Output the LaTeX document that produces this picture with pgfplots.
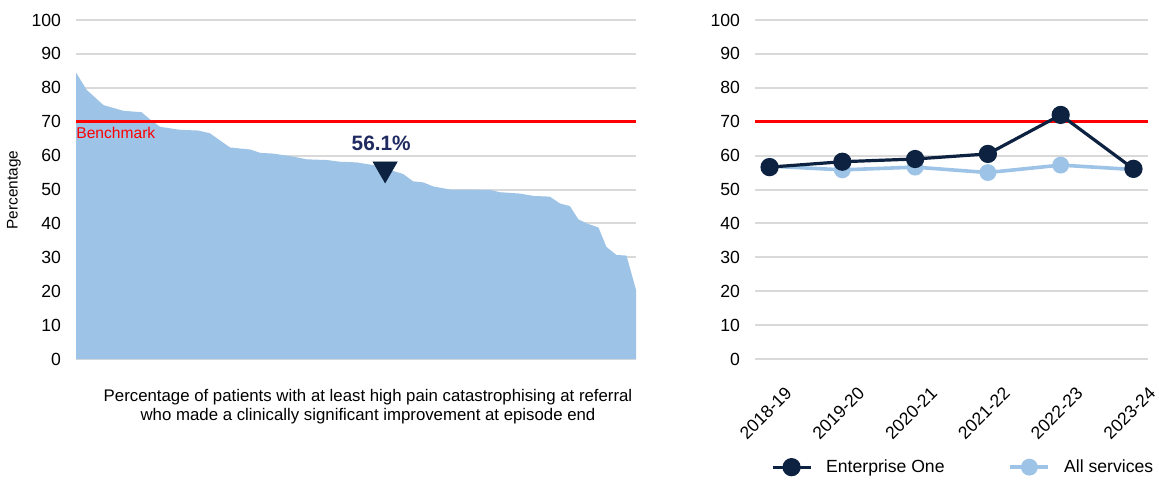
\documentclass[border=0pt]{standalone}
\usepackage{fontspec}
\setmainfont{Liberation Sans}
\usepackage{pgfplots}
\pgfplotsset{compat=1.18}

\definecolor{navy}{HTML}{0D2240}
\definecolor{lightblue}{HTML}{9DC3E6}
\definecolor{labelblue}{HTML}{1F2A60}
\definecolor{gridgray}{HTML}{D9D9D9}

\pgfplotsset{
  common/.style={
    scale only axis,
    height=169.5pt,
    ymin=0, ymax=100,
    ytick={0,10,...,100},
    axis line style={draw=none},
    ymajorgrids,
    grid style={gridgray, line width=1pt},
    tick style={draw=none},
    /pgf/number format/assume math mode=true,
    ticklabel style={font=\fontsize{8.8}{10}\selectfont},
    yticklabel style={xshift=-4pt},
  },
}

\begin{document}
\begin{tikzpicture}
% left: distribution across services
\begin{axis}[
  common,
  at={(0pt,0pt)}, anchor=south west,
  width=280pt,
  xmin=0, xmax=100,
  xtick=\empty,
  clip=false,
]
\addplot[fill=lightblue, draw=none] coordinates {
  (0,84.5) (1.9,79.4) (4.9,74.9) (8.5,73.2) (11.7,72.8) (13.2,70.7)
  (15.0,68.5) (18.6,67.6) (21.8,67.4) (23.9,66.6) (27.5,62.4) (31.1,61.8)
  (32.9,60.8) (35.2,60.6) (38.8,59.7) (41.2,58.9) (44.8,58.7) (47.1,58.2)
  (50.1,58.0) (53.1,57.2) (58.4,54.6) (60.2,52.4) (62.0,52.1) (63.8,50.9)
  (66.8,50.0) (73.9,49.9) (75.7,49.2) (79.3,48.8) (81.7,48.1) (84.6,47.9)
  (86.4,45.9) (88.2,45.1) (89.7,41.2) (91.2,40.0) (93.3,38.8) (94.7,33.1)
  (96.5,30.7) (98.3,30.5) (100,20.4)
} \closedcycle;
% benchmark
\addplot[red, line width=1.5pt] coordinates {(0,70) (100,70)};
% this service
\addplot[only marks, mark=triangle*, mark size=6.9pt,
  mark options={rotate=180, fill=navy, draw=navy}] coordinates {(55.2,56.1)};
\node[red, anchor=north west, inner sep=0pt, font=\fontsize{7.8}{9}\selectfont]
  at (axis cs:0,68.6) {Benchmark};
\node[labelblue, font=\fontsize{10.4}{12}\bfseries\selectfont]
  at (axis cs:54.5,63.7) {56.1\%};
\end{axis}

\node[rotate=90, font=\fontsize{7.7}{9}\selectfont] at (-31pt,84.5pt) {Percentage};
\node[align=center, font=\fontsize{8.4}{9.5}\selectfont] at (146pt,-24pt)
  {Percentage of patients with at least high pain catastrophising at referral\\
   who made a clinically significant improvement at episode end};

% right: trend
\begin{axis}[
  common,
  at={(339.5pt,0pt)}, anchor=south west,
  width=196.5pt,
  xmin=-0.2, xmax=5.2,
  xtick={0,1,2,3,4,5},
  xticklabels={2018-19,2019-20,2020-21,2021-22,2022-23,2023-24},
  xticklabel style={xshift=-2pt, yshift=-27pt, rotate=45, anchor=center},
  legend columns=2,
  legend image code/.code={
    \draw[mark repeat=2, mark phase=2] plot coordinates {(0pt,0pt) (9.5pt,0pt) (19pt,0pt)};
  },
  legend style={draw=none, fill=none, at={(0.532,-0.319)}, anchor=center,
    font=\fontsize{8.8}{10}\selectfont,
    /tikz/every odd column/.append style={column sep=5pt},
    /tikz/every even column/.append style={column sep=30pt}},
]
\addlegendimage{navy, line width=1.6pt, mark=*, mark size=3.75pt}
\addlegendentry{Enterprise One}
\addlegendimage{lightblue, line width=1.8pt, mark=*, mark size=3.3pt}
\addlegendentry{All services}
\addplot[red, line width=1.5pt, forget plot] coordinates {(-0.2,70) (5.2,70)};
\addplot[lightblue, line width=1.8pt, mark=*, mark size=3.3pt, forget plot] coordinates {
  (0,56.9) (1,55.8) (2,56.6) (3,55.0) (4,57.2) (5,55.9)
};
\addplot[navy, line width=1.6pt, mark=*, mark size=3.75pt, forget plot] coordinates {
  (0,56.6) (1,58.2) (2,59.0) (3,60.5) (4,72.0) (5,56.1)
};
\end{axis}

\pgfresetboundingbox
\path[use as bounding box] (-38pt,-60pt) rectangle (541.5pt,179.5pt);
\end{tikzpicture}
\end{document}
